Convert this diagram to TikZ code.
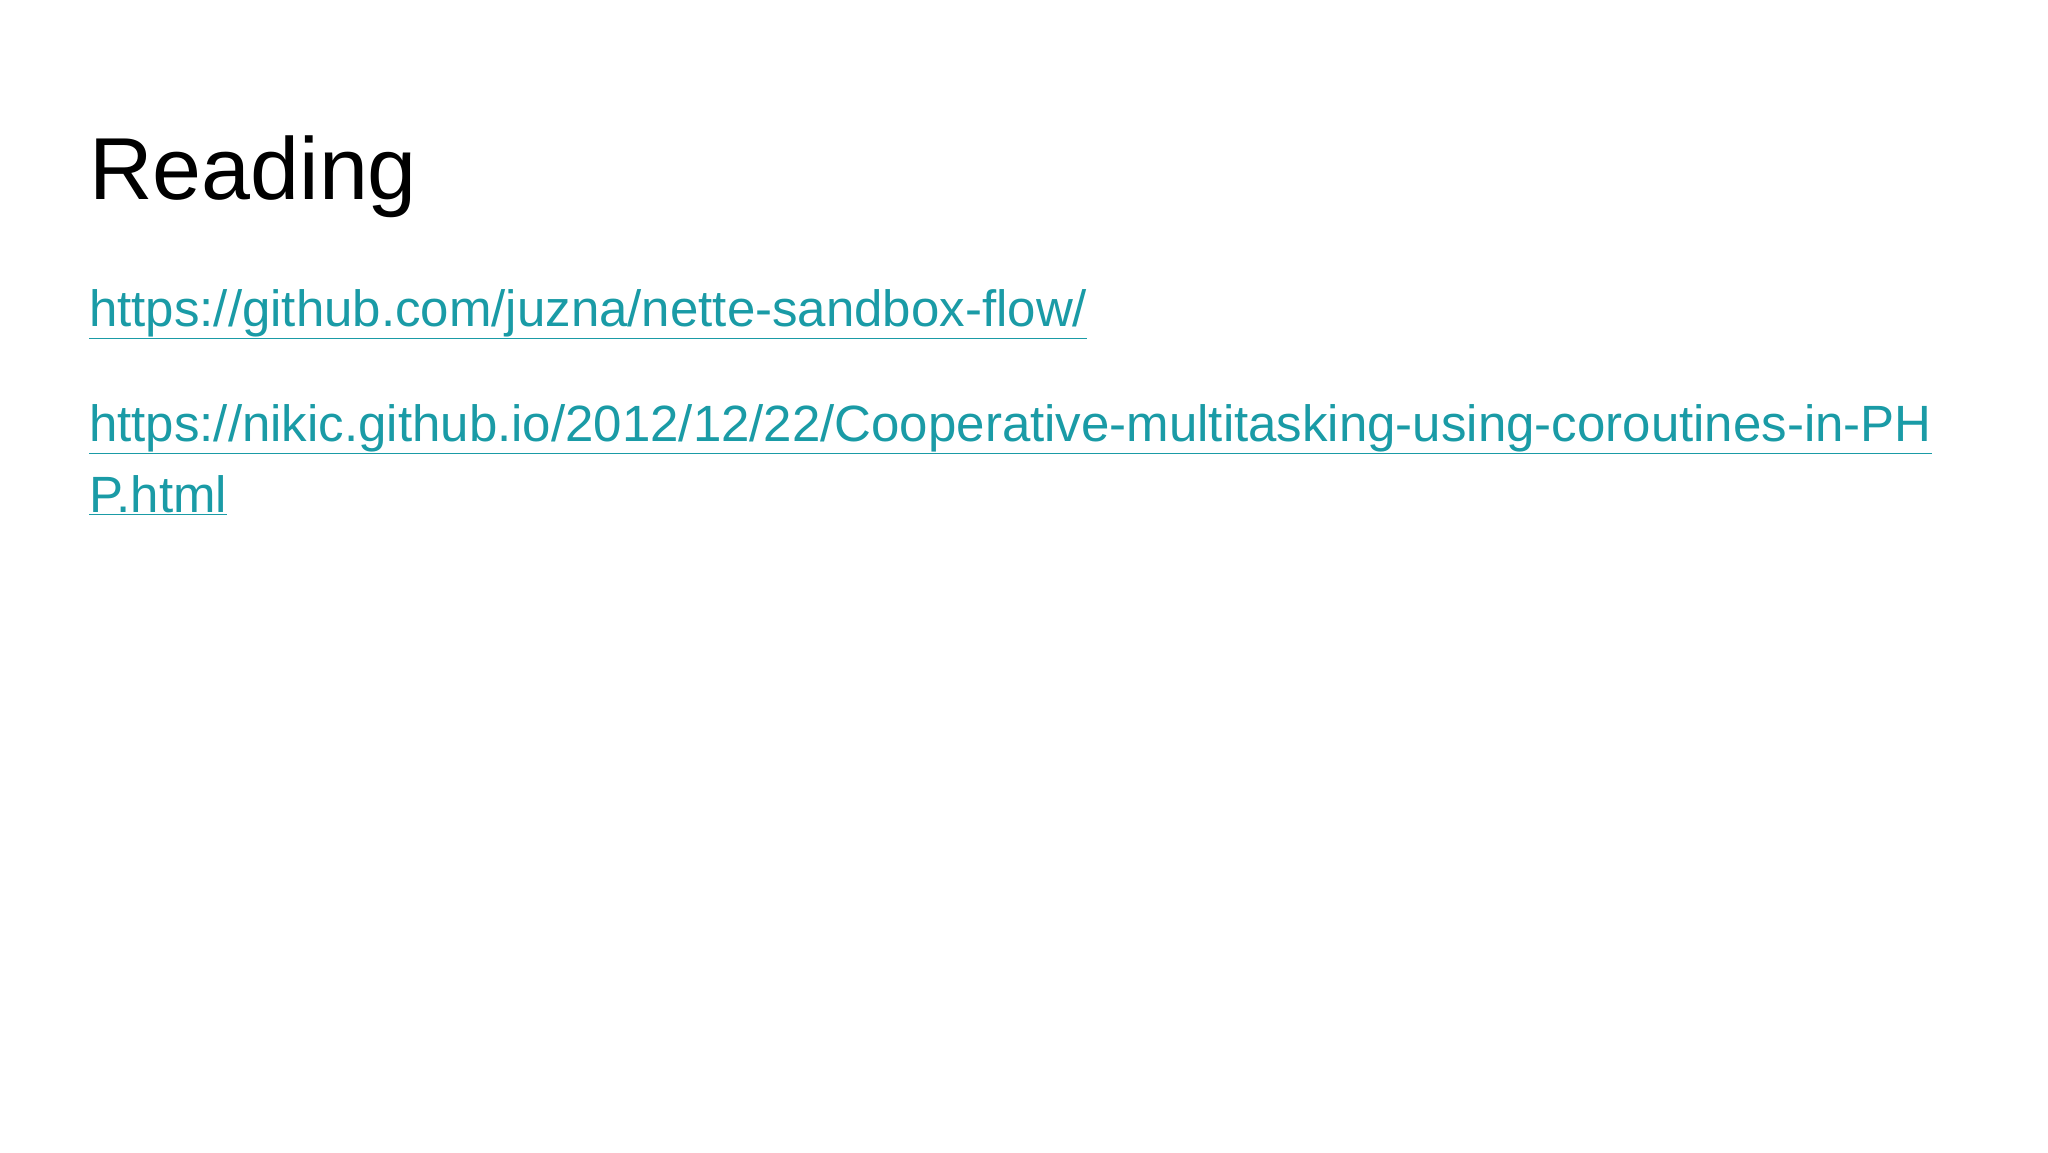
\documentclass[tikz,border=0pt]{standalone}
\usepackage{fontspec}
\setmainfont{Liberation Sans}
\definecolor{linkc}{HTML}{1A9BA6}
\begin{document}
\begin{tikzpicture}[x=1pt,y=-1pt,
  title/.style={anchor=base west,inner sep=0pt,font=\fontsize{88}{100}\selectfont},
  link/.style={anchor=base west,inner sep=0pt,text=linkc,font=\fontsize{51}{60}\selectfont}]
\useasboundingbox[fill=white] (0,0) rectangle (2048,1152);
\node[title] (t) at (89,199) {Reading};
\node[link] (l1) at (89,326) {\underline{https://github.com/juzna/nette-sandbox-flow/}};
\node[link] (l2) at (89,441) {\underline{https://nikic.github.io/2012/12/22/Cooperative-multitasking-using-coroutines-in-PH}};
\node[link] (l3) at (89,512) {\underline{P.html}};
\end{tikzpicture}
\end{document}
